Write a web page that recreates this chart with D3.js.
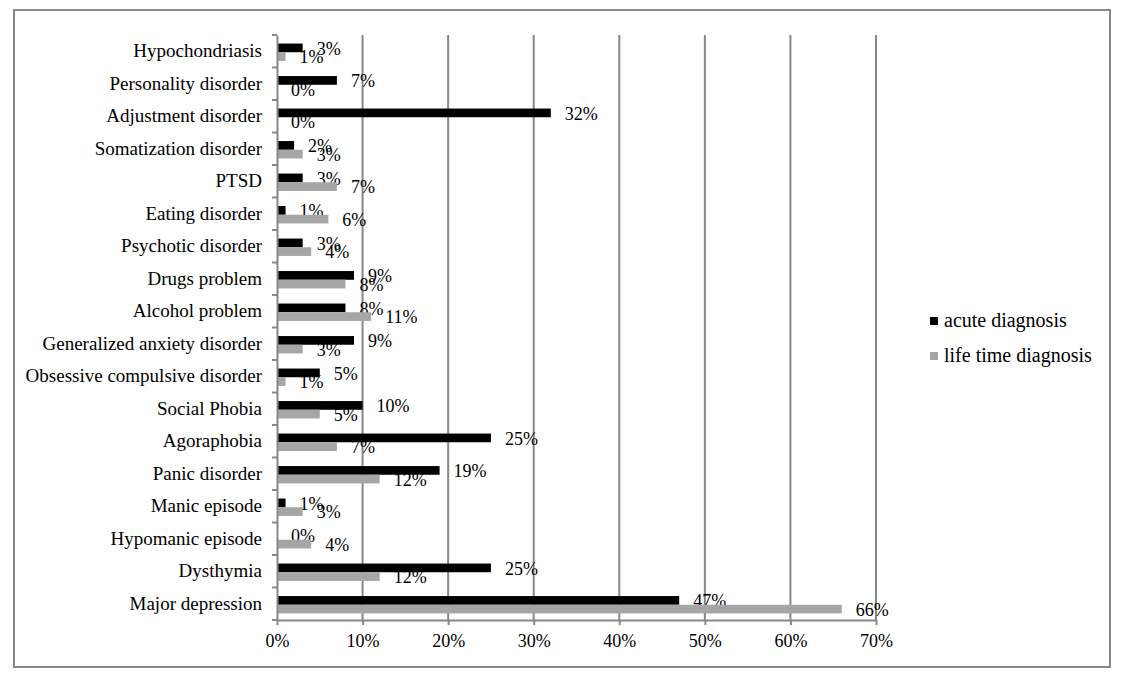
<!DOCTYPE html>
<html>
<head>
<meta charset="utf-8">
<script src="https://cdn.jsdelivr.net/npm/d3@7"></script>
<style>
  body { margin: 0; background: #fff; }
  text { font-family: "Liberation Serif", "Times New Roman", serif; fill: #000; }
</style>
</head>
<body>
<script>
// categories, top to bottom
const categories = [
  "Hypochondriasis", "Personality disorder", "Adjustment disorder", "Somatization disorder",
  "PTSD", "Eating disorder", "Psychotic disorder", "Drugs problem", "Alcohol problem",
  "Generalized anxiety disorder", "Obsessive compulsive disorder", "Social Phobia",
  "Agoraphobia", "Panic disorder", "Manic episode", "Hypomanic episode", "Dysthymia",
  "Major depression"
];
const acute = [3, 7, 32, 2, 3, 1, 3, 9, 8, 9, 5, 10, 25, 19, 1, 0, 25, 47];
const lifetime = [1, 0, 0, 3, 7, 6, 4, 8, 11, 3, 1, 5, 7, 12, 3, 4, 12, 66];
const seriesNames = ["acute diagnosis", "life time diagnosis"];
const xTicks = [0, 10, 20, 30, 40, 50, 60, 70];

const W = 1127, H = 679;
const gridColor = "#878787";
const colors = ["#000000", "#a6a6a6"];

const svg = d3.select("body").append("svg")
  .attr("width", W).attr("height", H);

// outer frame
svg.append("rect")
  .attr("x", 14).attr("y", 10).attr("width", 1096).attr("height", 657)
  .attr("fill", "none").attr("stroke", gridColor).attr("stroke-width", 2);

const plot = { left: 277, right: 876, top: 35, bottom: 620 };

const x = d3.scaleLinear().domain([0, 70]).range([plot.left, plot.right]);
const y = d3.scaleBand().domain(categories).range([plot.top, plot.bottom]);
const barH = 8.7;
const pad = (y.bandwidth() - 2 * barH) / 2;

// vertical gridlines
svg.append("g").selectAll("line")
  .data(xTicks.slice(1))
  .join("line")
  .attr("x1", d => x(d)).attr("x2", d => x(d))
  .attr("y1", plot.top).attr("y2", plot.bottom)
  .attr("stroke", gridColor).attr("stroke-width", 2);

// bars
const rows = categories.map((c, i) => ({ cat: c, vals: [acute[i], lifetime[i]] }));
const barG = svg.append("g");
rows.forEach(r => {
  r.vals.forEach((v, s) => {
    const by = y(r.cat) + pad + s * barH + 1;
    barG.append("rect")
      .attr("x", x(0)).attr("y", by)
      .attr("width", x(v) - x(0)).attr("height", barH)
      .attr("fill", colors[s]);
    barG.append("text")
      .attr("x", x(v) + 14).attr("y", by + barH / 2 + 2.5)
      .attr("dominant-baseline", "middle")
      .attr("font-size", 18)
      .text(v + "%");
  });
});

// y axis
const yAxis = svg.append("g")
  .attr("transform", `translate(${plot.left},0)`)
  .call(d3.axisLeft(y).tickSize(0).tickPadding(15));
yAxis.select(".domain").attr("stroke", gridColor).attr("stroke-width", 2);
yAxis.selectAll("text").attr("font-size", 19).attr("font-family", "Liberation Serif").attr("fill", "#000");
// category boundary ticks
svg.append("g").selectAll("line")
  .data(d3.range(categories.length + 1))
  .join("line")
  .attr("x1", plot.left - 5).attr("x2", plot.left)
  .attr("y1", i => plot.top + i * y.step()).attr("y2", i => plot.top + i * y.step())
  .attr("stroke", gridColor).attr("stroke-width", 2);

// x axis
const xAxis = svg.append("g")
  .attr("transform", `translate(0,${plot.bottom})`)
  .call(d3.axisBottom(x).tickValues(xTicks).tickSize(5).tickPadding(9).tickSizeOuter(0)
    .tickFormat(d => d + "%"));
xAxis.select(".domain").attr("stroke", gridColor).attr("stroke-width", 2);
xAxis.selectAll(".tick line").attr("stroke", gridColor).attr("stroke-width", 2);
xAxis.selectAll("text").attr("font-size", 18).attr("font-family", "Liberation Serif").attr("fill", "#000");

// legend
const legend = svg.append("g").attr("transform", "translate(930,321)");
seriesNames.forEach((n, i) => {
  const g = legend.append("g").attr("transform", `translate(0,${i * 35})`);
  g.append("rect").attr("x", 0).attr("y", -4).attr("width", 8).attr("height", 8).attr("fill", colors[i]);
  g.append("text").attr("x", 14).attr("y", 1).attr("dominant-baseline", "middle")
    .attr("font-size", 20).text(n);
});
</script>
</body>
</html>
